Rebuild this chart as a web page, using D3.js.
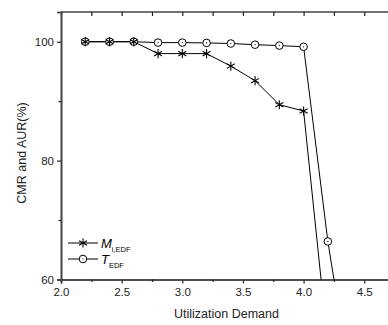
<!DOCTYPE html>
<html>
<head>
<meta charset="utf-8">
<script src="https://d3js.org/d3.v7.min.js"></script>
<style>
  body { margin: 0; background: #fff; }
  text { font-family: "Liberation Sans", Arial, sans-serif; }
</style>
</head>
<body>
<script>
// data
var demand = [2.2, 2.4, 2.6, 2.8, 3.0, 3.2, 3.4, 3.6, 3.8, 4.0, 4.2, 4.4];
var mEdf = [100, 100, 100, 98, 98, 98, 95.9, 93.45, 89.4, 88.35, 49];
var tEdf = [100, 100, 100, 99.85, 99.85, 99.8, 99.7, 99.5, 99.35, 99.15, 66.4, 41];
var xTicks = [2.0, 2.5, 3.0, 3.5, 4.0, 4.5];
var yTicks = [60, 80, 100];

var W = 388, H = 325;
var L = 61, T = 12, R = 392, B = 279.5;

var svg = d3.select("body").append("svg").attr("width", W).attr("height", H);

var x = d3.scaleLinear().domain([2, 2 + (R - L) / 121.3]).range([L, R]);
var y = d3.scaleLinear().domain([60, 105]).range([B, T]);

svg.append("clipPath").attr("id", "clip")
  .append("rect").attr("x", L).attr("y", T).attr("width", R - L).attr("height", B - T);

// top axis, ticks inward
var topAx = svg.append("g").attr("transform", "translate(0," + T + ")")
  .call(d3.axisBottom(x).tickValues(d3.range(2, 4.76, 0.25)).tickSize(4).tickFormat(""));
// bottom axis
svg.append("g").attr("transform", "translate(0," + B + ")")
  .call(d3.axisBottom(x).tickValues(xTicks).tickSize(4).tickPadding(4).tickFormat(d3.format(".1f")));
svg.append("g").attr("transform", "translate(0," + B + ")")
  .call(d3.axisBottom(x).tickValues([2.25, 2.75, 3.25, 3.75, 4.25, 4.75]).tickSize(2.5).tickFormat(""));
// left axis
svg.append("g").attr("transform", "translate(" + L + ",0)")
  .call(d3.axisLeft(y).tickValues(yTicks).tickSize(4).tickPadding(3));
svg.append("g").attr("transform", "translate(" + L + ",0)")
  .call(d3.axisLeft(y).tickValues([70, 90]).tickSize(2.5).tickFormat(""));

svg.selectAll(".domain").attr("stroke", "#444").attr("stroke-width", 1.6);
svg.selectAll(".tick line").attr("stroke", "#222").attr("stroke-width", 1.2);
svg.selectAll(".tick text").attr("font-size", 11.5).attr("fill", "#222")
  .attr("font-family", "Liberation Sans, Arial, sans-serif");
// top axis domain without end stubs
topAx.select(".domain").attr("d", "M" + L + ",0H" + R);

// axis titles
svg.append("text").attr("x", 226.5).attr("y", 318).attr("text-anchor", "middle")
  .attr("font-size", 12.5).attr("fill", "#222").text("Utilization Demand");
svg.append("text").attr("transform", "translate(26,153) rotate(-90)").attr("text-anchor", "middle")
  .attr("font-size", 12.5).attr("fill", "#222").text("CMR and AUR(%)");

var line = d3.line().x(d => x(d[0])).y(d => y(d[1]));
var mPts = mEdf.map((v, i) => [demand[i], v]);
var tPts = tEdf.map((v, i) => [demand[i], v]);

var plot = svg.append("g").attr("clip-path", "url(#clip)");
plot.append("path").attr("d", line(mPts)).attr("fill", "none").attr("stroke", "#000").attr("stroke-width", 1);
plot.append("path").attr("d", line(tPts)).attr("fill", "none").attr("stroke", "#000").attr("stroke-width", 1);

function star(g, cx, cy, r) {
  var s = g.append("g").attr("transform", "translate(" + cx + "," + cy + ")");
  [90, 30, 150].forEach(function (a) {
    var dx = r * Math.cos(a * Math.PI / 180), dy = r * Math.sin(a * Math.PI / 180);
    s.append("line").attr("x1", -dx).attr("y1", -dy).attr("x2", dx).attr("y2", dy)
      .attr("stroke", "#000").attr("stroke-width", 1.1);
  });
}
function ring(g, cx, cy, r) {
  g.append("circle").attr("cx", cx).attr("cy", cy).attr("r", r)
    .attr("fill", "#fff").attr("stroke", "#000").attr("stroke-width", 1);
  g.append("circle").attr("cx", cx).attr("cy", cy).attr("r", 0.6).attr("fill", "#000");
}

tPts.forEach(d => ring(plot, x(d[0]), y(d[1]), 3.8));
mPts.forEach(d => star(plot, x(d[0]), y(d[1]), 4.6));

// legend
var lg = svg.append("g");
lg.append("line").attr("x1", 68).attr("x2", 98).attr("y1", 243).attr("y2", 243).attr("stroke", "#000");
star(lg, 83, 243, 4.6);
lg.append("line").attr("x1", 68).attr("x2", 98).attr("y1", 259).attr("y2", 259).attr("stroke", "#000");
ring(lg, 83, 259, 3.8);
var t1 = lg.append("text").attr("x", 101).attr("y", 248).attr("font-size", 13).attr("fill", "#000");
t1.append("tspan").attr("font-style", "italic").text("M");
t1.append("tspan").attr("font-size", 7.5).attr("dy", 4).text("i,EDF");
var t2 = lg.append("text").attr("x", 101).attr("y", 264).attr("font-size", 13).attr("fill", "#000");
t2.append("tspan").attr("font-style", "italic").text("T");
t2.append("tspan").attr("font-size", 7.5).attr("dy", 4).text("EDF");
</script>
</body>
</html>
